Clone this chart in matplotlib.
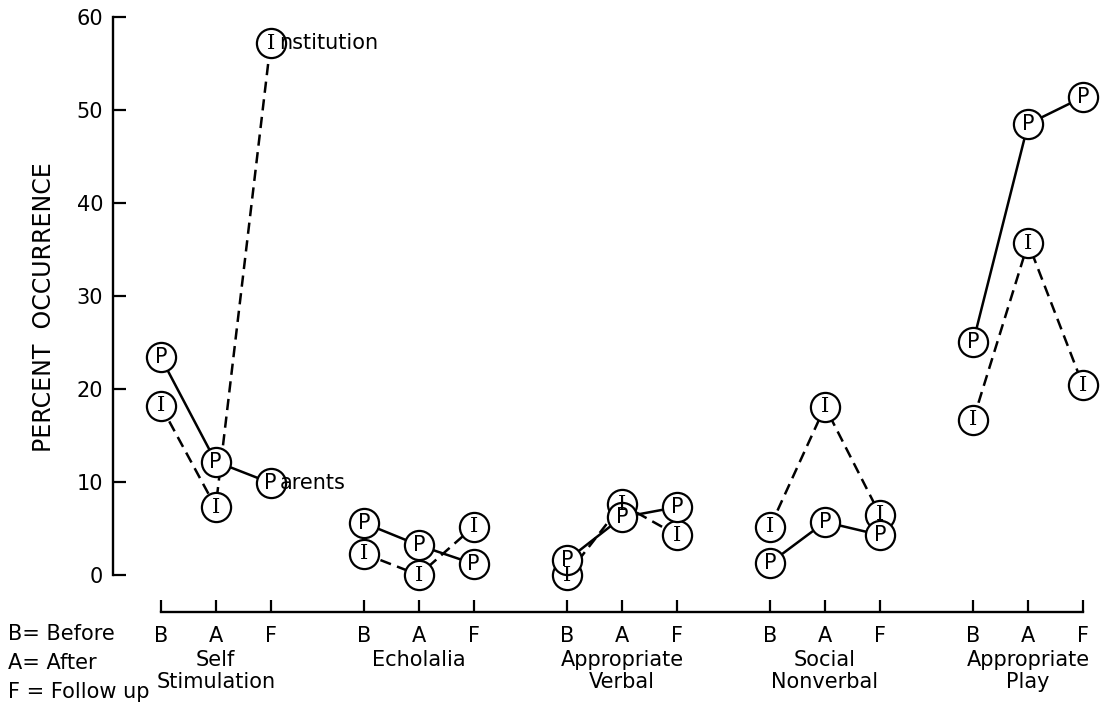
"""
Percent occurrence of behaviours before / after / follow-up,
parent-trained vs institution children.
"""

import matplotlib.pyplot as plt
from matplotlib.ticker import FixedLocator

plt.rcParams['font.family'] = ['DejaVu Sans']

# Data
groups = ['Self\nStimulation', 'Echolalia', 'Appropriate\nVerbal',
          'Social\nNonverbal', 'Appropriate\nPlay']
phases = ['B', 'A', 'F']
parents = [[23.4, 12.2, 9.9],
           [5.6, 3.2, 1.2],
           [1.6, 6.2, 7.3],
           [1.3, 5.7, 4.3],
           [25.1, 48.5, 51.4]]
institution = [[18.2, 7.3, 57.2],
               [2.3, 0.0, 5.2],
               [0.0, 7.6, 4.3],
               [5.2, 18.1, 6.5],
               [16.7, 35.7, 20.4]]
y_ticks = [0, 10, 20, 30, 40, 50, 60]
key_lines = ['B= Before', 'A= After', 'F = Follow up']

GROUP_STEP = 3.7
LW = 1.8

fig = plt.figure(figsize=(11.05, 7.11), dpi=100)
fig.patch.set_facecolor('white')
ax = fig.add_axes([0.1023, 0.1392, 0.8932, 0.8538])
ax.set_xlim(-0.87, 17.11)
ax.set_ylim(-3.98, 61.3)

xpos = []
for g in range(len(groups)):
    xs = [g * GROUP_STEP + i for i in range(len(phases))]
    xpos.append(xs)
    # Institution: dashed, Parents: solid
    ax.plot(xs, institution[g], color='black', lw=LW,
            linestyle=(0, (4.5, 2.6)), zorder=2, clip_on=False)
    ax.plot(xs, parents[g], color='black', lw=LW, zorder=2, clip_on=False)
    for series, letter, fam in ((institution[g], 'I', 'DejaVu Serif'),
                                (parents[g], 'P', 'DejaVu Sans')):
        ax.plot(xs, series, linestyle='none', marker='o', markersize=21,
                markerfacecolor='white', markeredgecolor='black',
                markeredgewidth=1.6, zorder=3, clip_on=False)
        for x, y in zip(xs, series):
            ax.text(x, y, letter, ha='center', va='center', fontsize=15,
                    family=fam, zorder=4)

# "I" and "P" markers double as the first letter of the series names
ax.annotate('nstitution', xy=(xpos[0][2], institution[0][2]),
            xytext=(6.5, 0), textcoords='offset points',
            ha='left', va='center', fontsize=15, zorder=5)
ax.annotate('arents', xy=(xpos[0][2], parents[0][2]),
            xytext=(6.5, 0), textcoords='offset points',
            ha='left', va='center', fontsize=15, zorder=5)

# Axes styling: detached left and bottom spines
for s in ('top', 'right'):
    ax.spines[s].set_visible(False)
ax.spines['left'].set_bounds(0, 60)
ax.spines['bottom'].set_bounds(xpos[0][0], xpos[-1][-1])
ax.spines['left'].set_linewidth(1.7)
ax.spines['bottom'].set_linewidth(1.7)

ax.set_yticks(y_ticks)
ax.set_yticklabels([str(v) for v in y_ticks])
ax.xaxis.set_major_locator(FixedLocator([x for xs in xpos for x in xs]))
ax.set_xticklabels(phases * len(groups))
ax.tick_params(axis='y', direction='in', length=9, width=1.6,
               labelsize=15, pad=7)
ax.tick_params(axis='x', direction='in', length=9, width=1.6,
               labelsize=15, pad=10)

# Group names under the "A" tick
for g, name in enumerate(groups):
    ax.annotate(name, xy=(xpos[g][1], 0), xycoords=('data', 'axes fraction'),
                xytext=(0, -27), textcoords='offset points',
                ha='center', va='top', fontsize=15, linespacing=1.15)

# Key at lower left
for i, line in enumerate(key_lines):
    fig.text(8 / 1105, 1 - (634 + i * 29) / 711, line,
             ha='left', va='center', fontsize=15)

fig.text(44 / 1105, 1 - 307 / 711, 'PERCENT  OCCURRENCE', rotation=90,
         ha='center', va='center', fontsize=17)

fig.savefig('out.png', dpi=100, facecolor='white')
